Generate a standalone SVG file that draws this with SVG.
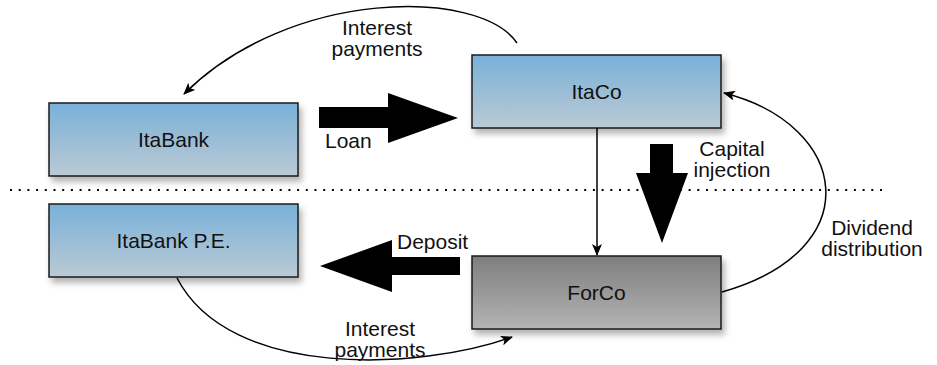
<svg xmlns="http://www.w3.org/2000/svg" width="937" height="365" viewBox="0 0 937 365">
  <style>
    .box { stroke: #1a1a1a; stroke-width: 1.5; filter: url(#shadow); }
    .blue { fill: url(#gBlue); }
    .grey { fill: url(#gGrey); }
    .lbl { font-family: "Liberation Sans", Arial, sans-serif; font-size: 21px; fill: #111; }
    .mid { text-anchor: middle; }
    .flow { fill: none; stroke: #000; stroke-width: 1.5; marker-end: url(#head); }
    .big { fill: #000; }
  </style>
  <defs>
    <linearGradient id="gBlue" x1="0" y1="0" x2="0" y2="1">
      <stop offset="0" stop-color="#78b1d9"/>
      <stop offset="1" stop-color="#bbc9d4"/>
    </linearGradient>
    <linearGradient id="gGrey" x1="0" y1="0" x2="0" y2="1">
      <stop offset="0" stop-color="#7e7e7e"/>
      <stop offset="1" stop-color="#b4b4b4"/>
    </linearGradient>
    <filter id="shadow" x="-10%" y="-20%" width="125%" height="150%">
      <feDropShadow dx="3" dy="5" stdDeviation="3" flood-color="#000" flood-opacity="0.3"/>
    </filter>
    <marker id="head" viewBox="0 0 12 10" refX="11" refY="5" markerWidth="12" markerHeight="10" markerUnits="userSpaceOnUse" orient="auto">
      <path d="M0,0 L12,5 L0,10 L3,5 Z" fill="#000"/>
    </marker>
  </defs>

  <!-- boundary -->
  <line x1="10" y1="190" x2="885" y2="190" stroke="#000" stroke-width="2" stroke-dasharray="2 6.7"/>

  <g id="itabank">
    <rect class="box blue" x="49" y="103" width="249" height="73"/>
    <text class="lbl mid" x="173.5" y="147">ItaBank</text>
  </g>
  <g id="itaco">
    <rect class="box blue" x="472" y="55" width="249" height="73"/>
    <text class="lbl mid" x="596.5" y="99">ItaCo</text>
  </g>
  <g id="itabank-pe">
    <rect class="box blue" x="49" y="204" width="249" height="73"/>
    <text class="lbl mid" x="173.5" y="248">ItaBank P.E.</text>
  </g>
  <g id="forco">
    <rect class="box grey" x="472" y="256" width="249" height="73"/>
    <text class="lbl mid" x="596.5" y="300">ForCo</text>
  </g>

  <g id="connectors">
    <!-- interest from ItaCo to ItaBank -->
    <path class="flow" d="M517,43 C480,-12 290,-12 184,94"/>
    <text class="lbl mid" x="377" y="35">Interest</text>
    <text class="lbl mid" x="377" y="56">payments</text>

    <!-- loan -->
    <polygon class="big" points="319,107 388,107 388,93 458,118 388,143 388,128 319,128"/>
    <text class="lbl" x="325" y="148">Loan</text>

    <!-- ItaCo to ForCo -->
    <path class="flow" d="M597,128 L597,255"/>

    <!-- capital injection -->
    <polygon class="big" points="650,144 673,144 673,173 688,173 662,243 636,173 650,173"/>
    <text class="lbl mid" x="732" y="156">Capital</text>
    <text class="lbl mid" x="732" y="177">injection</text>

    <!-- dividend distribution -->
    <path class="flow" d="M722,292 C870,250 850,125 724,93"/>
    <text class="lbl mid" x="872" y="235">Dividend</text>
    <text class="lbl mid" x="872" y="256">distribution</text>

    <!-- deposit -->
    <polygon class="big" points="460,257 392,257 392,240 320,266 392,292 392,275 460,275"/>
    <text class="lbl" x="397" y="249">Deposit</text>

    <!-- interest from ItaBank P.E. to ForCo -->
    <path class="flow" d="M177,278 C230,380 420,370 512,337"/>
    <text class="lbl mid" x="380" y="336">Interest</text>
    <text class="lbl mid" x="380" y="357">payments</text>
  </g>
</svg>
